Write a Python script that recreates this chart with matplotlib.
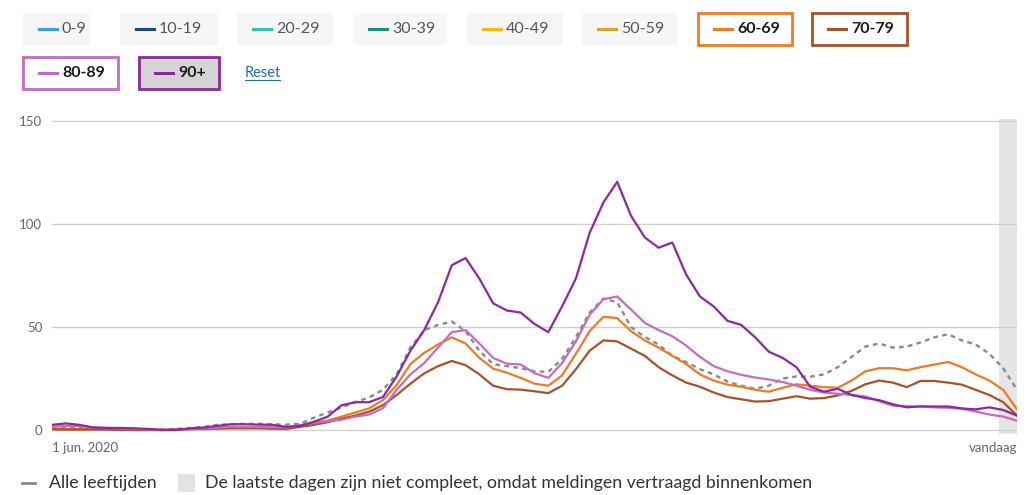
import matplotlib.pyplot as plt
import pandas as pd
from matplotlib.patches import Rectangle
from matplotlib.lines import Line2D

plt.rcParams['font.family'] = ['Lato', 'DejaVu Sans']

# data: 7-day average per 100.000 inhabitants, sampled every 5 days from 1 jun 2020
dates = pd.date_range('2020-06-01', periods=71, freq='5D')

alle_leeftijden = [1.0, 1.0, 1.0, 0.8, 0.8, 0.5, 0.5, 0.3, 0.3, 0.5,
                   1.0, 1.5, 2.5, 2.8, 3.0, 3.0, 2.8, 2.6, 3.0, 6.0,
                   8.5, 11.0, 13.5, 15.8, 19.5, 27.0, 40.0, 48.5, 51.0, 52.7,
                   48.0, 38.5, 32.0, 31.0, 30.0, 28.5, 28.2, 34.5, 45.0, 57.0,
                   63.8, 62.0, 50.0, 45.2, 41.5, 36.0, 33.0, 29.5, 27.0, 23.5,
                   21.5, 20.0, 21.5, 25.0, 26.0, 25.9, 27.0, 30.5, 35.5, 40.5,
                   42.0, 40.0, 40.5, 42.5, 45.0, 46.5, 43.5, 41.5, 37.0, 30.0, 19.5]

age_60_69 = [0.5, 0.5, 0.5, 0.5, 0.3, 0.2, 0.0, 0.0, 0.0, 0.2,
             0.4, 0.6, 0.8, 1.0, 1.2, 1.2, 1.2, 1.2, 1.9, 3.5,
             4.6, 6.5, 8.5, 10.5, 14.5, 21.8, 32.0, 37.5, 41.5, 45.0,
             42.0, 35.0, 29.8, 27.8, 25.3, 22.5, 21.5, 26.5, 37.0, 48.0,
             55.0, 54.3, 48.0, 43.5, 40.0, 36.0, 32.0, 27.0, 24.0, 22.0,
             21.0, 19.5, 18.6, 20.5, 22.2, 21.5, 20.8, 20.5, 24.0, 28.5,
             30.0, 30.0, 29.0, 30.5, 31.8, 33.0, 30.5, 27.0, 24.0, 19.5, 10.0]

age_70_79 = [0.3, 0.2, 0.2, 0.2, 0.2, 0.0, 0.0, 0.0, 0.0, 0.2,
             0.4, 0.5, 0.7, 0.8, 0.8, 0.8, 0.6, 0.5, 1.5, 2.5,
             3.8, 5.5, 7.0, 8.9, 12.0, 17.0, 22.5, 27.5, 31.0, 33.5,
             31.5, 27.0, 21.5, 19.8, 19.6, 18.8, 17.9, 21.5, 29.5, 38.5,
             43.5, 43.0, 39.5, 36.0, 30.5, 26.5, 23.0, 21.0, 18.2, 16.0,
             14.9, 13.8, 14.0, 15.2, 16.4, 15.2, 15.5, 16.8, 19.0, 22.2,
             24.0, 23.0, 20.8, 23.8, 23.8, 23.0, 22.0, 19.5, 17.0, 13.5, 7.0]

age_80_89 = [1.5, 2.0, 2.0, 1.2, 1.0, 0.8, 0.5, 0.3, 0.0, 0.0,
             0.5, 0.8, 1.2, 1.5, 1.5, 1.5, 1.3, 1.2, 2.4, 3.5,
             4.3, 5.0, 6.5, 7.5, 10.5, 19.5, 27.0, 32.5, 40.0, 47.5,
             48.5, 42.0, 35.0, 32.2, 31.8, 27.6, 25.3, 32.5, 43.0, 56.0,
             63.5, 64.8, 58.5, 52.0, 48.5, 45.5, 41.0, 35.5, 31.0, 28.5,
             26.8, 25.5, 24.5, 23.3, 21.5, 19.5, 18.2, 17.6, 17.0, 16.3,
             14.0, 11.8, 11.5, 11.3, 11.0, 10.8, 10.3, 9.0, 7.5, 6.5, 4.5]

age_90_plus = [2.5, 3.2, 2.5, 1.2, 1.0, 1.0, 0.8, 0.5, 0.0, 0.0,
               0.8, 1.2, 2.0, 2.8, 2.8, 2.6, 2.5, 1.5, 2.0, 4.0,
               6.5, 12.0, 13.5, 13.5, 16.0, 26.0, 38.5, 48.5, 62.0, 80.0,
               83.5, 73.5, 61.5, 58.0, 57.0, 51.5, 47.5, 60.0, 73.5, 95.7,
               110.5, 120.5, 104.0, 93.5, 88.5, 91.0, 75.5, 64.8, 60.0, 53.0,
               51.0, 45.0, 38.0, 35.0, 30.5, 21.0, 18.6, 20.0, 17.0, 15.5,
               14.5, 12.5, 11.0, 11.5, 11.4, 11.4, 10.5, 10.0, 11.0, 9.7, 7.0]

groups = ['0-9', '10-19', '20-29', '30-39', '40-49', '50-59', '60-69', '70-79', '80-89', '90+']
group_colors = ['#3a9ee0', '#154a86', '#2cc3b5', '#16907c', '#ffb612', '#dca32a',
                '#f07a22', '#a8522a', '#c46bc4', '#8b2a9e']
selected = ['60-69', '70-79', '80-89', '90+']
series = {'60-69': age_60_69, '70-79': age_70_79, '80-89': age_80_89, '90+': age_90_plus}

W, H = 1029, 495
fig = plt.figure(figsize=(W / 100, H / 100), dpi=100)
ax = fig.add_axes([52 / W, 0.1230, (1017 - 52) / W, 0.6366])

ax.axvspan(dates[-1] - pd.Timedelta(days=6.5), dates[-1], color='#e5e5e5', lw=0, zorder=0)
ax.plot(dates, alle_leeftijden, color='#8a8a8a', lw=1.7, linestyle=(0, (2, 1.8)), zorder=3)
for g in selected:
    ax.plot(dates, series[g], color=group_colors[groups.index(g)], lw=1.6, zorder=4)

ax.set_xlim(dates[0], dates[-1])
ax.set_ylim(-2, 151)
ax.set_yticks([0, 50, 100, 150])
ax.set_xticks([dates[0], dates[-1]])
ax.set_xticklabels(['1 jun. 2020', 'vandaag'])
xl = ax.get_xticklabels()
xl[0].set_ha('left')
xl[1].set_ha('right')
ax.tick_params(axis='x', length=0, pad=6, labelsize=9.5, labelcolor='#666666')
ax.tick_params(axis='y', length=0, pad=7, labelsize=9.5, labelcolor='#666666')
ax.grid(axis='y', color='#cfcfcf', lw=1)
ax.set_axisbelow(True)
for s in ax.spines.values():
    s.set_visible(False)


def fx(x):
    return x / W


def fy(y):
    return 1 - y / H


# legend buttons (pixel layout)
starts = [23, 120, 237, 353, 467, 582, 698, 812, 23, 139]
ends = [90, 218, 333, 447, 563, 678, 792, 907, 118, 219]
for i, g in enumerate(groups):
    row = 0 if i < 8 else 1
    y0, y1 = (13, 45) if row == 0 else (57, 89)
    yc = (y0 + y1) / 2
    x0, x1 = starts[i], ends[i]
    col = group_colors[i]
    on = g in selected
    if on:
        face = '#d4d4d4' if g == '90+' else 'white'
        fig.add_artist(Rectangle((fx(x0), fy(y1)), fx(x1 - x0), (y1 - y0) / H,
                                 transform=fig.transFigure, facecolor=face,
                                 edgecolor=col, lw=2))
    else:
        fig.add_artist(Rectangle((fx(x0), fy(y1)), fx(x1 - x0), (y1 - y0) / H,
                                 transform=fig.transFigure, facecolor='#f6f6f6',
                                 edgecolor='none'))
    fig.add_artist(Line2D([fx(x0 + 16), fx(x0 + 34)], [fy(yc), fy(yc)],
                          transform=fig.transFigure, color=col, lw=2.2))
    fig.text(fx(x0 + 39), fy(yc), g, ha='left', va='center', fontsize=11.5,
             color='#1a1a1a' if on else '#555555',
             fontweight='bold' if on else 'normal')

fig.text(fx(245), fy(73), 'Reset', ha='left', va='center', fontsize=10.5, color='#1f6fb5')
fig.add_artist(Line2D([fx(245), fx(280)], [fy(80), fy(80)],
                      transform=fig.transFigure, color='#1f6fb5', lw=0.8))

# bottom legend
fig.add_artist(Line2D([fx(22), fx(35)], [fy(483), fy(483)],
                      transform=fig.transFigure, color='#888888', lw=2))
fig.text(fx(49), fy(483), 'Alle leeftijden', ha='left', va='center', fontsize=12.8, color='#333333')
fig.add_artist(Rectangle((fx(178), fy(492)), fx(17), 18 / H, transform=fig.transFigure,
                         facecolor='#e3e3e3', edgecolor='none'))
fig.text(fx(205), fy(483), 'De laatste dagen zijn niet compleet, omdat meldingen vertraagd binnenkomen',
         ha='left', va='center', fontsize=12.8, color='#333333')

fig.savefig('out.png', dpi=100)
print('saved to out.png')
